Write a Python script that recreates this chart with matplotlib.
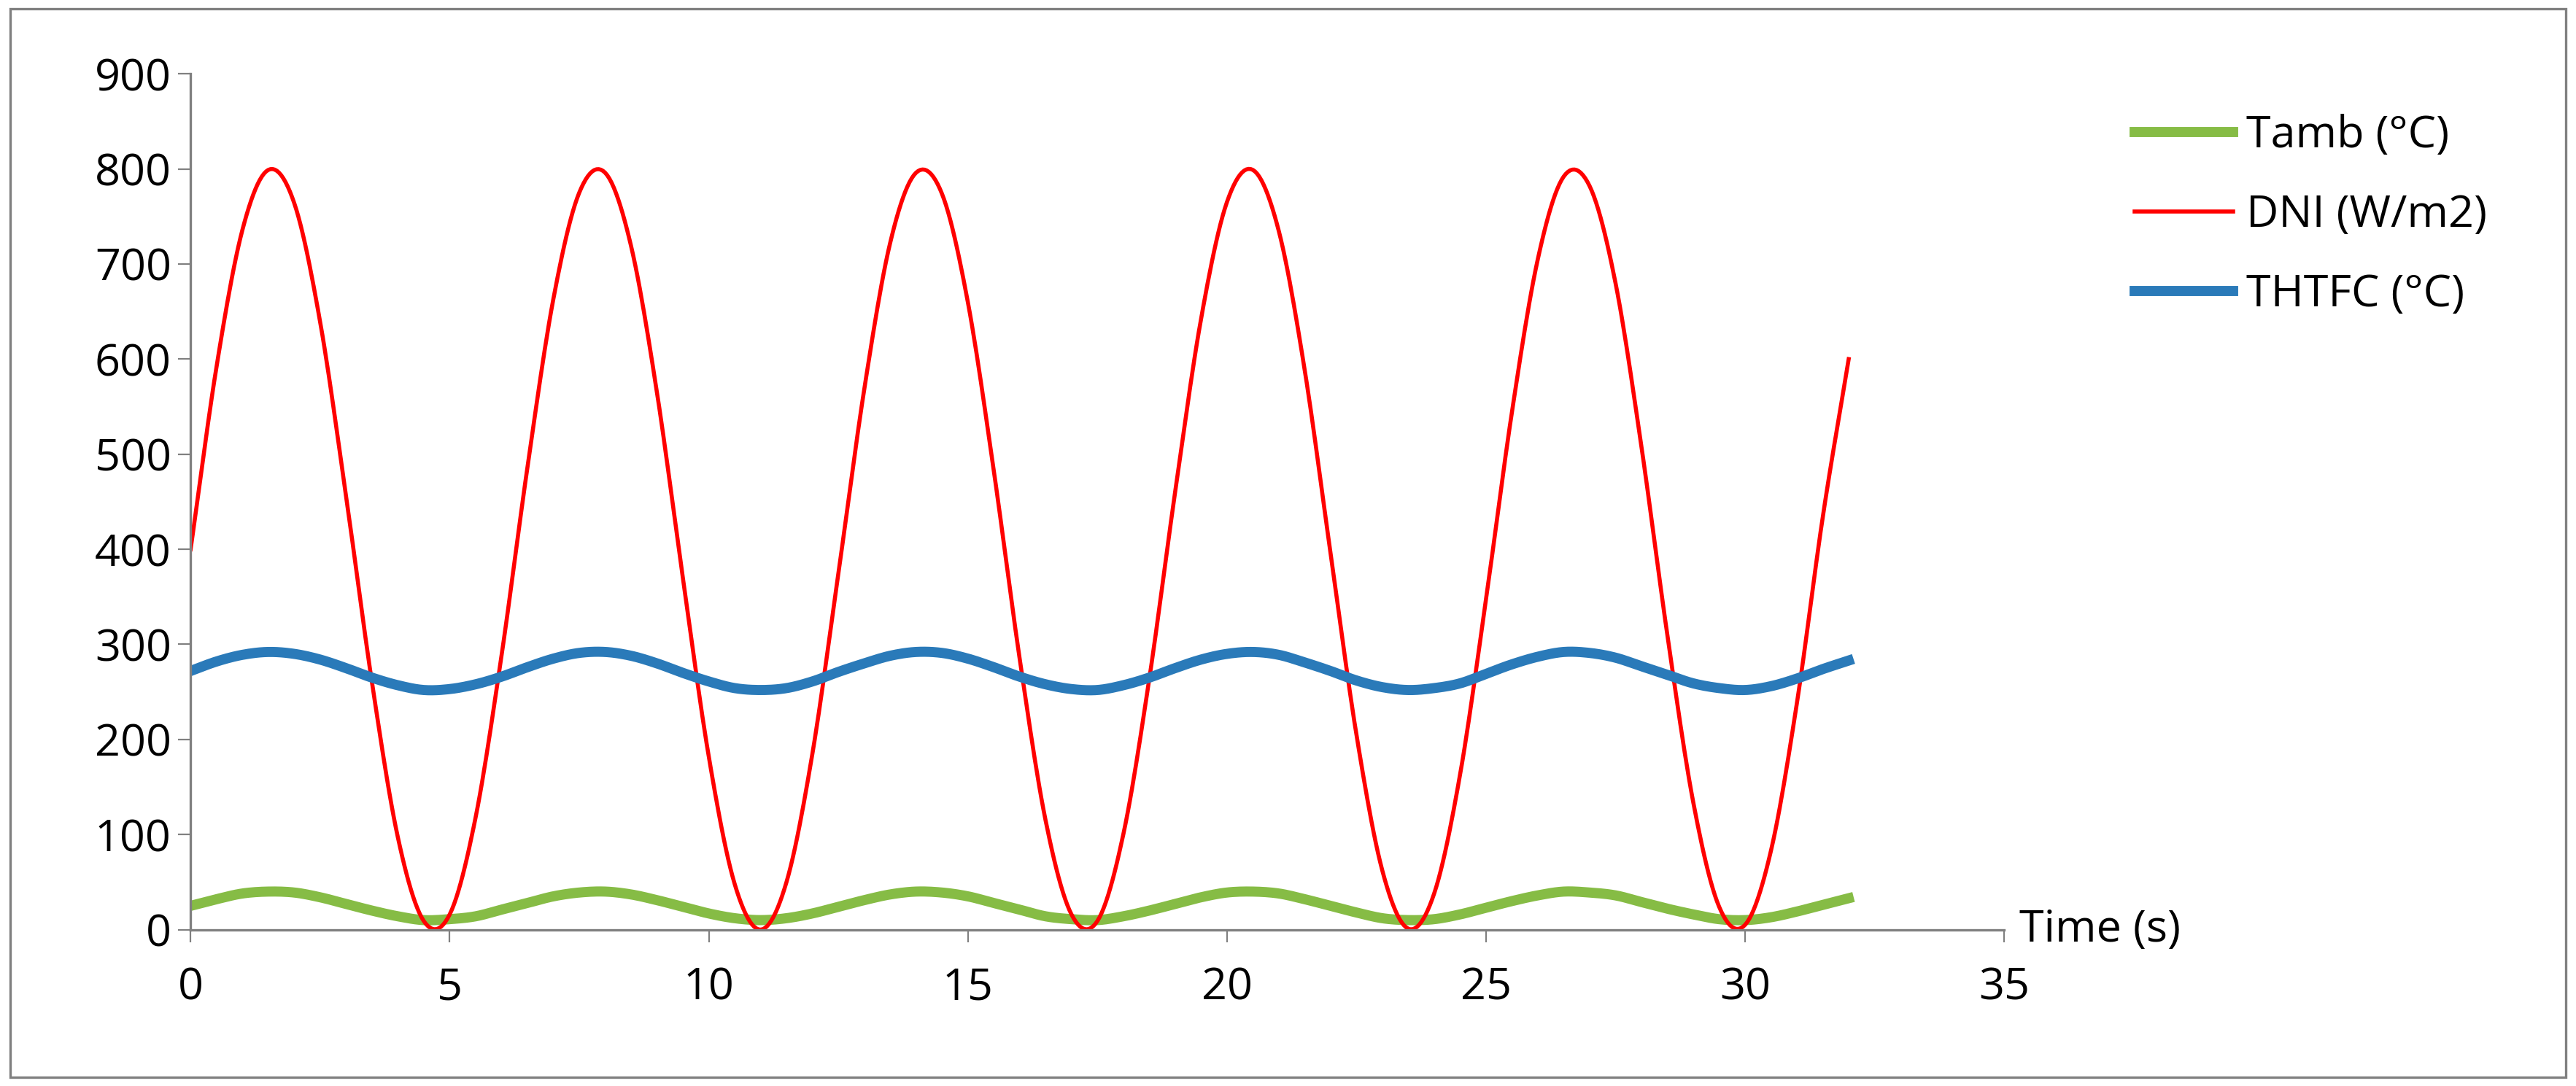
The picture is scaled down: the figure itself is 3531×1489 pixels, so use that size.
import numpy as np
import matplotlib.pyplot as plt
from matplotlib.patches import Rectangle

time_s = [i * 0.5 for i in range(65)]
dni = [400, 592, 736, 799, 764, 639, 456, 260, 97, 9, 16, 118, 288, 486, 663, 775, 796, 719, 565, 370,
       182, 48, 0, 50, 185, 374, 568, 722, 796, 774, 660, 483, 285, 115, 16, 9, 100, 263, 460, 642,
       765, 799, 735, 589, 396, 205, 62, 1, 38, 163, 347, 544, 705, 792, 782, 680, 508, 310, 134, 24,
       5, 83, 238, 434, 600]
tamb = [25, 32, 38, 40, 39, 34, 27, 20, 14, 10, 11, 14, 21, 28, 35, 39, 40, 37, 31, 24,
        17, 12, 10, 12, 17, 24, 31, 37, 40, 39, 35, 28, 21, 14, 11, 10, 14, 20, 27, 34,
        39, 40, 38, 32, 25, 18, 12, 10, 11, 16, 23, 30, 36, 40, 39, 36, 29, 22, 16, 11,
        10, 13, 19, 26, 33]
thtfc = [272, 282, 289, 292, 290, 284, 275, 265, 257, 252, 253, 258, 266, 276, 285, 291, 292, 288, 280, 270,
         261, 254, 252, 254, 261, 271, 280, 288, 292, 291, 285, 276, 266, 258, 253, 252, 257, 265, 275, 284,
         290, 292, 289, 281, 272, 262, 255, 252, 254, 259, 269, 279, 287, 292, 291, 286, 277, 268, 259, 254,
         252, 256, 264, 274, 283]


def smooth(x, y, n=12):
    # Catmull-Rom spline through the points, like Excel's smoothed line
    x = np.asarray(x, float)
    y = np.asarray(y, float)
    px = np.concatenate([[2 * x[0] - x[1]], x, [2 * x[-1] - x[-2]]])
    py = np.concatenate([[2 * y[0] - y[1]], y, [2 * y[-1] - y[-2]]])
    t = np.linspace(0, 1, n, endpoint=False)
    xs, ys = [], []
    for i in range(1, len(px) - 2):
        for p, out in ((px, xs), (py, ys)):
            p0, p1, p2, p3 = p[i - 1], p[i], p[i + 1], p[i + 2]
            out.extend(0.5 * (2 * p1 + (-p0 + p2) * t + (2 * p0 - 5 * p1 + 4 * p2 - p3) * t ** 2
                              + (-p0 + 3 * p1 - 3 * p2 + p3) * t ** 3))
    xs.append(x[-1])
    ys.append(y[-1])
    return xs, ys


plt.rcParams["font.family"] = ["Open Sans", "DejaVu Sans"]

fig = plt.figure(figsize=(17.655, 7.445), dpi=200)
fig.patches.append(Rectangle((0.004, 0.008), 0.992, 0.984, transform=fig.transFigure,
                             fill=False, edgecolor="#808080", linewidth=1.2))
ax = fig.add_axes([0.074, 0.144, 0.704, 0.788])

ax.plot(*smooth(time_s, tamb), color="#86bc45", linewidth=5, label="Tamb (°C)")
ax.plot(*smooth(time_s, dni), color="#ff0000", linewidth=2, label="DNI (W/m2)")
ax.plot(*smooth(time_s, thtfc), color="#2a7ab9", linewidth=5, label="THTFC (°C)")

ax.set_xlim(0, 35)
ax.set_ylim(0, 900)
ax.set_xticks(range(0, 36, 5))
ax.set_yticks(range(0, 901, 100))
ax.tick_params(labelsize=22, length=6, color="#808080")
ax.tick_params(axis="x", pad=12)
for s in ["top", "right"]:
    ax.spines[s].set_visible(False)
for s in ["left", "bottom"]:
    ax.spines[s].set_color("#808080")
    ax.spines[s].set_linewidth(1.2)

ax.text(35.3, 0, "Time (s)", fontsize=22, va="center", ha="left")

ax.legend(loc="upper left", bbox_to_anchor=(1.05, 1.0), frameon=False, fontsize=22,
          handlelength=2.2, handletextpad=0.3, labelspacing=0.8)

fig.savefig("out.png")
